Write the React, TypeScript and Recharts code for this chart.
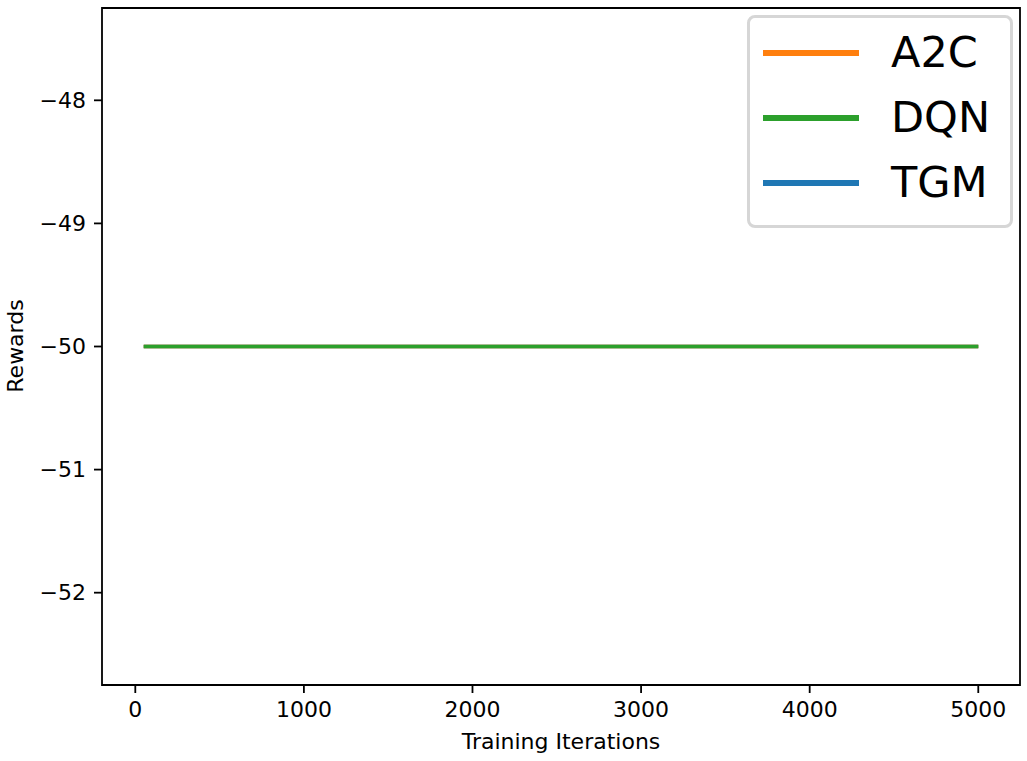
import React from "react";
import { LineChart, Line, XAxis, YAxis, ReferenceArea, Label } from "recharts";

// values: all three runs sit flat at -50
const iterations = [50, 500, 1000, 1500, 2000, 2500, 3000, 3500, 4000, 4500, 5000];
const a2cRewards = [-50, -50, -50, -50, -50, -50, -50, -50, -50, -50, -50];
const dqnRewards = [-50, -50, -50, -50, -50, -50, -50, -50, -50, -50, -50];
const tgmRewards = [-50, -50, -50, -50, -50, -50, -50, -50, -50, -50, -50];

const xTicks = [0, 1000, 2000, 3000, 4000, 5000];
const yTicks = [-52, -51, -50, -49, -48];
const xDomain: [number, number] = [-197.5, 5247.5];
const yDomain: [number, number] = [-52.75, -47.25];

const legendItems = [
    { name: "A2C", color: "#ff7f0e" },
    { name: "DQN", color: "#2ca02c" },
    { name: "TGM", color: "#1f77b4" },
];

const data = iterations.map((it, i) => ({
    iter: it,
    a2c: a2cRewards[i],
    dqn: dqnRewards[i],
    tgm: tgmRewards[i],
}));

const FONT = "'DejaVu Sans', sans-serif";

const fmtY = (v: number) => (v < 0 ? `\u2212${Math.abs(v)}` : `${v}`);

const LegendBox = () => (
    <div style={{
        position: "absolute",
        left: 747,
        top: 15,
        width: 260,
        height: 205,
        border: "3px solid #d6d6d6",
        borderRadius: 8,
        background: "#fff",
        boxSizing: "content-box",
        paddingTop: 2,
        fontFamily: FONT,
    }}>
        {legendItems.map((item) => (
            <div key={item.name} style={{ height: 65, display: "flex", alignItems: "center" }}>
                <div style={{ marginLeft: 13, width: 96, height: 6, background: item.color }} />
                <span style={{ marginLeft: 32, fontSize: 43, color: "#000", lineHeight: "65px" }}>{item.name}</span>
            </div>
        ))}
    </div>
);

const YLabel = () => (
    <text
        x={15}
        y={346}
        transform="rotate(-90 15 346)"
        textAnchor="middle"
        dominantBaseline="central"
        fontFamily={FONT}
        fontSize={22}
        fill="#000"
    >
        Rewards
    </text>
);

export default function App() {
    return (
        <div style={{ position: "absolute", left: 0, top: 0, width: 1027, height: 761, background: "#fff" }}>
            <LineChart
                width={1027}
                height={761}
                data={data}
                margin={{ top: 8, right: 7, left: 0, bottom: 0 }}
            >
                <XAxis
                    dataKey="iter"
                    type="number"
                    domain={xDomain}
                    ticks={xTicks}
                    allowDataOverflow
                    height={76}
                    tickSize={8}
                    tickMargin={8}
                    axisLine={false}
                    tickLine={{ stroke: "#000", strokeWidth: 1.8 }}
                    tick={{ fill: "#000", fontSize: 22, fontFamily: FONT }}
                >
                    <Label
                        value="Training Iterations"
                        position="insideBottom"
                        offset={12}
                        style={{ fill: "#000", fontSize: 22, fontFamily: FONT }}
                    />
                </XAxis>
                <YAxis
                    type="number"
                    domain={yDomain}
                    ticks={yTicks}
                    allowDataOverflow
                    width={102}
                    tickSize={8}
                    tickMargin={8}
                    axisLine={false}
                    tickFormatter={fmtY}
                    tickLine={{ stroke: "#000", strokeWidth: 1.8 }}
                    tick={{ fill: "#000", fontSize: 22, fontFamily: FONT }}
                >
                    <Label content={<YLabel />} />
                </YAxis>
                <Line type="linear" dataKey="tgm" stroke="#1f77b4" strokeWidth={3.3} dot={false} isAnimationActive={false} />
                <Line type="linear" dataKey="a2c" stroke="#ff7f0e" strokeWidth={3.3} dot={false} isAnimationActive={false} />
                <Line type="linear" dataKey="dqn" stroke="#2ca02c" strokeWidth={3.3} dot={false} isAnimationActive={false} />
                <ReferenceArea
                    x1={xDomain[0]}
                    x2={xDomain[1]}
                    y1={yDomain[0]}
                    y2={yDomain[1]}
                    stroke="#000"
                    strokeWidth={1.8}
                    fill="none"
                    fillOpacity={0}
                />
            </LineChart>
            <LegendBox />
        </div>
    );
}
